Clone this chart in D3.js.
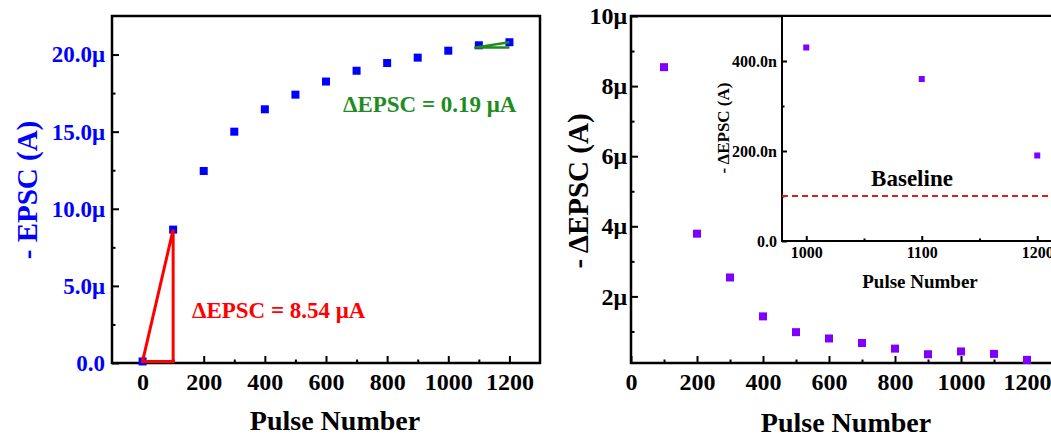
<!DOCTYPE html>
<html>
<head>
<meta charset="utf-8">
<script src="https://cdn.jsdelivr.net/npm/d3@7"></script>
<style>
  body { margin: 0; background: #fff; }
  svg text { font-family: "Liberation Serif", "Times New Roman", serif; font-weight: bold; }
  .tick line { stroke: #000; stroke-width: 2; }
</style>
</head>
<body>
<div id="chart"></div>
<script>
// data (EPSC in uA, delta in uA, inset delta in nA)
var pulses = [0, 100, 200, 300, 400, 500, 600, 700, 800, 900, 1000, 1100, 1200];
var epsc = [0.1, 8.65, 12.45, 15.0, 16.45, 17.4, 18.25, 18.95, 19.45, 19.8, 20.25, 20.6, 20.8];
var deltaPulses = [100, 200, 300, 400, 500, 600, 700, 800, 900, 1000, 1100, 1200];
var deltaEpsc = [8.54, 3.79, 2.54, 1.43, 0.98, 0.80, 0.67, 0.51, 0.35, 0.43, 0.36, 0.19];
var insetPulses = [1000, 1100, 1200];
var insetDelta = [430, 360, 190];
var baselineNA = 100;

var leftYTicks = [0, 5, 10, 15, 20];
var leftYLabels = ["0.0", "5.0\u03bc", "10.0\u03bc", "15.0\u03bc", "20.0\u03bc"];
var xTicks = [0, 200, 400, 600, 800, 1000, 1200];
var rightYTicks = [2, 4, 6, 8, 10];
var rightYLabels = ["2\u03bc", "4\u03bc", "6\u03bc", "8\u03bc", "10\u03bc"];
var insetXTicks = [1000, 1100, 1200];
var insetYTicks = [0, 200, 400];
var insetYLabels = ["0.0", "200.0n", "400.0n"];

var svgWidth = 1051, svgHeight = 444;

var svg = d3.select("#chart").append("svg")
  .attr("width", svgWidth)
  .attr("height", svgHeight);

// helper: inward ticks (major + minor), no domain path
function drawAxis(g, axisFn, scale, major, minor, fmt, size, fontSize, pad, color) {
  g.append("g").call(axisFn(scale).tickValues(minor).tickSize(-size / 2).tickFormat(""))
    .call(s => s.select(".domain").remove());
  var a = g.append("g").call(axisFn(scale).tickValues(major).tickSize(-size).tickPadding(pad)
    .tickFormat((d, i) => fmt[i]));
  a.select(".domain").remove();
  a.selectAll("text").attr("font-size", fontSize).attr("fill", color || "#000");
  return a;
}

// ---------- left panel ----------
var xL = d3.scaleLinear().domain([-100, 1300]).range([112, 540]);
var yL = d3.scaleLinear().domain([0, 22.5]).range([363, 16]);

var left = svg.append("g");

left.append("g").attr("transform", "translate(0,363)")
  .call(g => drawAxis(g, d3.axisBottom, xL, xTicks, d3.range(100, 1300, 200), xTicks.map(String), 7, "24px", 10));
left.append("g").attr("transform", "translate(112,0)")
  .call(g => drawAxis(g, d3.axisLeft, yL, leftYTicks, [2.5, 7.5, 12.5, 17.5], leftYLabels, 7, "23px", 7, "#0000ff"));

left.append("rect")
  .attr("x", 112).attr("y", 16).attr("width", 540 - 112).attr("height", 363 - 16)
  .attr("fill", "none").attr("stroke", "#000").attr("stroke-width", 2.5);

left.selectAll("rect.pt")
  .data(pulses)
  .enter()
  .append("rect")
  .attr("class", "pt")
  .attr("x", d => xL(d) - 4)
  .attr("y", (d, i) => yL(epsc[i]) - 4)
  .attr("width", 8).attr("height", 8)
  .attr("fill", "#0000ff");

// red triangle (first step)
var line = d3.line();
left.append("path")
  .attr("d", line([[xL(0), yL(epsc[0])], [xL(100), yL(epsc[1])], [xL(100), yL(epsc[0])]]) + "Z")
  .attr("fill", "none").attr("stroke", "#ff0000").attr("stroke-width", 3);

// green wedge (last step)
left.append("path")
  .attr("d", line([[xL(1200), yL(20.8)], [xL(1085), yL(20.45)], [xL(1200), yL(20.45)]]))
  .attr("fill", "none").attr("stroke", "#1e8c1e").attr("stroke-width", 2.5);

left.append("text")
  .attr("x", 192).attr("y", 318)
  .attr("font-size", "23px").attr("fill", "#ff0000")
  .text("\u0394EPSC = 8.54 \u03bcA");

left.append("text")
  .attr("x", 343).attr("y", 112)
  .attr("font-size", "23px").attr("fill", "#1e8c1e")
  .text("\u0394EPSC = 0.19 \u03bcA");

left.append("text")
  .attr("x", 335).attr("y", 430)
  .attr("text-anchor", "middle").attr("font-size", "28px")
  .text("Pulse Number");

left.append("text")
  .attr("transform", "translate(37,190) rotate(-90)")
  .attr("text-anchor", "middle").attr("font-size", "29px").attr("fill", "#0000ff")
  .text("- EPSC (A)");

// ---------- right panel ----------
var xR = d3.scaleLinear().domain([0, 1300]).range([631, 1060]);
var yR = d3.scaleLinear().domain([0.1, 10]).range([363, 16]);

var right = svg.append("g");

right.append("g").attr("transform", "translate(0,363)")
  .call(g => drawAxis(g, d3.axisBottom, xR, xTicks, d3.range(100, 1300, 200), xTicks.map(String), 7, "24px", 10));
right.append("g").attr("transform", "translate(631,0)")
  .call(g => drawAxis(g, d3.axisLeft, yR, rightYTicks, [1, 3, 5, 7, 9], rightYLabels, 7, "24px", 4));

right.append("rect")
  .attr("x", 631).attr("y", 16).attr("width", 500).attr("height", 363 - 16)
  .attr("fill", "none").attr("stroke", "#000").attr("stroke-width", 2.5);

right.selectAll("rect.pt")
  .data(deltaPulses)
  .enter()
  .append("rect")
  .attr("class", "pt")
  .attr("x", d => xR(d) - 4)
  .attr("y", (d, i) => yR(deltaEpsc[i]) - 4)
  .attr("width", 8).attr("height", 8)
  .attr("fill", "#7f00ff");

right.append("text")
  .attr("x", 846).attr("y", 432)
  .attr("text-anchor", "middle").attr("font-size", "28px")
  .text("Pulse Number");

right.append("text")
  .attr("transform", "translate(588,191) rotate(-90)")
  .attr("text-anchor", "middle").attr("font-size", "29px")
  .text("- \u0394EPSC (A)");

// ---------- inset ----------
var xI = d3.scaleLinear().domain([979, 1250]).range([782, 1095]);
var yI = d3.scaleLinear().domain([0, 500]).range([241, 16]);

var inset = svg.append("g");

inset.append("rect")
  .attr("x", 782).attr("y", 16).attr("width", 400).attr("height", 241 - 16)
  .attr("fill", "#fff").attr("stroke", "#000").attr("stroke-width", 2);

inset.append("g").attr("transform", "translate(0,241)")
  .call(g => drawAxis(g, d3.axisBottom, xI, insetXTicks, [1050, 1150], insetXTicks.map(String), 5, "16px", 6));
inset.append("g").attr("transform", "translate(782,0)")
  .call(g => drawAxis(g, d3.axisLeft, yI, insetYTicks, [100, 300], insetYLabels, 5, "16px", 5));

inset.append("line")
  .attr("x1", 782).attr("x2", 1051)
  .attr("y1", yI(baselineNA)).attr("y2", yI(baselineNA))
  .attr("stroke", "#e02020").attr("stroke-width", 2)
  .attr("stroke-dasharray", "6,4");

inset.append("text")
  .attr("x", 912).attr("y", 186)
  .attr("text-anchor", "middle").attr("font-size", "23px")
  .text("Baseline");

inset.selectAll("rect.pt")
  .data(insetPulses)
  .enter()
  .append("rect")
  .attr("class", "pt")
  .attr("x", d => xI(d) - 3)
  .attr("y", (d, i) => yI(insetDelta[i]) - 3)
  .attr("width", 6).attr("height", 6)
  .attr("fill", "#7f00ff");

inset.append("text")
  .attr("x", 920).attr("y", 288)
  .attr("text-anchor", "middle").attr("font-size", "19px")
  .text("Pulse Number");

inset.append("text")
  .attr("transform", "translate(729,128) rotate(-90)")
  .attr("text-anchor", "middle").attr("font-size", "17px")
  .text("- \u0394EPSC (A)");
</script>
</body>
</html>
